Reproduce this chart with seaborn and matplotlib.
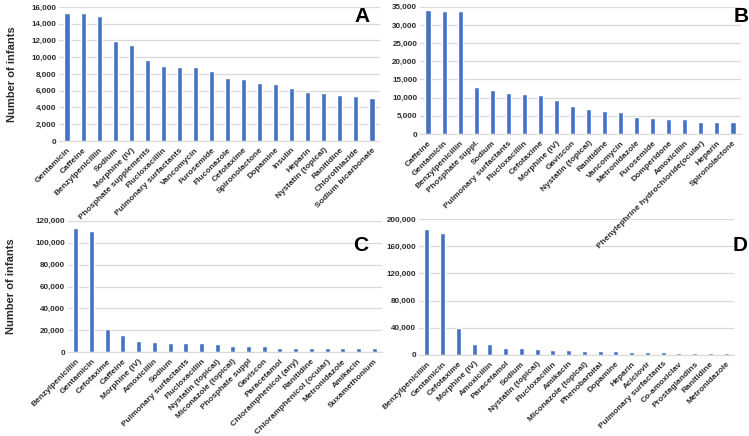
import matplotlib
matplotlib.use("Agg")
import matplotlib.pyplot as plt
import seaborn as sns
import pandas as pd
from matplotlib.ticker import FuncFormatter, MultipleLocator

sns.set_style("white")
plt.rcParams['font.family'] = ['Liberation Sans', 'DejaVu Sans']

# ---- Data ----
cats_a = ["Gentamicin", "Caffeine", "Benzylpenicillin", "Sodium", "Morphine (IV)",
          "Phosphate supplements", "Flucloxacillin", "Pulmonary surfactants", "Vancomycin",
          "Furosemide", "Fluconazole", "Cefotaxime", "Spironolactone", "Dopamine", "Insulin",
          "Heparin", "Nystatin (topical)", "Ranitidine", "Chlorothiazide", "Sodium bicarbonate"]
vals_a = [15240, 15240, 14920, 11980, 11430, 9640, 8930, 8810, 8810, 8330,
          7580, 7420, 6900, 6790, 6310, 5830, 5710, 5480, 5400, 5120]

cats_b = ["Caffeine", "Gentamicin", "Benzylpenicillin", "Phosphate suppl.", "Sodium",
          "Pulmonary surfactants", "Flucloxacillin", "Cefotaxime", "Morphine (IV)", "Gaviscon",
          "Nystatin (topical)", "Ranitidine", "Vancomycin", "Metronidazole", "Furosemide",
          "Domperidone", "Amoxicillin", "Phenylephrine hydrochloride(ocular)", "Heparin",
          "Spironolactone"]
vals_b = [34070, 33800, 33800, 12800, 12100, 11260, 10900, 10600, 9340, 7700,
          6780, 6320, 6040, 4760, 4400, 4200, 4030, 3390, 3390, 3200]

cats_c = ["Benzylpenicillin", "Gentamicin", "Cefotaxime", "Caffeine", "Morphine (IV)",
          "Amoxicillin", "Sodium", "Pulmonary surfactants", "Flucloxacillin",
          "Nystatin (topical)", "Miconazole (topical)", "Phosphate suppl", "Gaviscon",
          "Paracetamol", "Chloramphenicol (any)", "Ranitidine", "Chloramphenicol (ocular)",
          "Metronidazole", "Amikacin", "Suxamethonium"]
vals_c = [113400, 110900, 21300, 15800, 10000, 9400, 8800, 8200, 8200, 7600,
          5500, 5500, 5500, 4300, 4300, 4300, 4200, 3600, 3600, 3600]

cats_d = ["Benzylpenicillin", "Gentamicin", "Cefotaxime", "Morphine (IV)", "Amoxicillin",
          "Paracetamol", "Sodium", "Nystatin (topical)", "Flucloxacillin", "Amikacin",
          "Miconazole (topical)", "Phenobarbital", "Dopamine", "Heparin", "Aciclovir",
          "Pulmonary surfactants", "Co-amoxiclav", "Prostaglandins", "Ranitidine",
          "Metronidazole"]
vals_d = [186000, 180000, 39400, 16300, 15300, 10300, 9400, 8400, 7400, 6400,
          5400, 5400, 5400, 3900, 3900, 3900, 3000, 3000, 3000, 3000]

W, H = 749, 436
fig = plt.figure(figsize=(W / 100, H / 100), dpi=100)

def px_axes(left, right, top, bottom):
    return fig.add_axes([left / W, (H - bottom) / H, (right - left) / W, (bottom - top) / H])

BLUE = "#4472C4"
TXT = "#2b2b2b"
fmt = FuncFormatter(lambda v, p: f"{int(v):,}")

# (categories, values, pixel box, ymax, step, letter, ylabel x-coord or None, letter pos)
panels = [
    (cats_a, vals_a, (59, 380, 7, 141), 16000, 2000, "A", -0.132, (0.969, 1.0)),
    (cats_b, vals_b, (420, 741, 6.7, 134), 35000, 5000, "B", None, (1.025, 1.0)),
    (cats_c, vals_c, (68, 382, 220.7, 352.3), 120000, 20000, "C", -0.166, (0.955, 0.885)),
    (cats_d, vals_d, (419, 734, 219.3, 354.7), 200000, 40000, "D", None, (1.044, 0.88)),
]

axes = []
for cats, vals, box, ymax, step, letter, ylab, lpos in panels:
    ax = px_axes(*box)
    ax.patch.set_alpha(0)
    axes.append(ax)
    df = pd.DataFrame({"drug": cats, "n": vals})
    sns.barplot(data=df, x="drug", y="n", color=BLUE, saturation=1, width=0.32, ax=ax)
    ax.set_ylim(0, ymax)
    ax.set_xlim(-0.5, len(cats) - 0.5)
    ax.yaxis.set_major_locator(MultipleLocator(step))
    ax.yaxis.set_major_formatter(fmt)
    ax.grid(axis="y", color="#d9d9d9", linewidth=0.9)
    ax.set_axisbelow(True)
    for s in ["top", "right", "left"]:
        ax.spines[s].set_visible(False)
    ax.spines["bottom"].set_color("#d9d9d9")
    ax.tick_params(axis="y", length=0, pad=2)
    ax.tick_params(axis="x", length=0, pad=4)
    ax.set_xticks(range(len(cats)))
    ax.set_xticklabels(cats, rotation=45, ha="right", rotation_mode="anchor",
                       fontsize=6, fontweight="bold", color=TXT)
    for t in ax.get_yticklabels():
        t.set_fontsize(5.8)
        t.set_fontweight("bold")
        t.set_color(TXT)
    ax.set_xlabel("")
    if ylab is not None:
        ax.set_ylabel("Number of infants", fontsize=8, fontweight="bold", color=TXT)
        ax.yaxis.set_label_coords(ylab, 0.5)
    else:
        ax.set_ylabel("")
    ax.text(lpos[0], lpos[1], letter, transform=ax.transAxes, ha="right", va="top",
            fontsize=15, fontweight="bold", color="black")

# keep the upper panels' rotated labels visible above the lower panels
axes[0].set_zorder(3)
axes[1].set_zorder(3)

fig.savefig("out.png", dpi=100)
